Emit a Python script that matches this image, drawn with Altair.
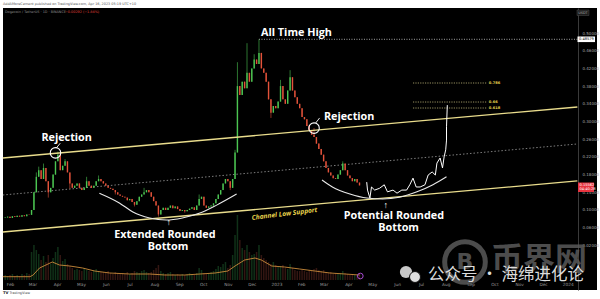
import altair as alt
import numpy as np
import pandas as pd

# ---------------- values ----------------
candle_start = "2022-01-26"          # first 3-day candle
candle_days = 3
first_open = 0.082
closes = [
    0.083, 0.085, 0.082, 0.086, 0.084, 0.087, 0.085, 0.088, 0.086, 0.090, 0.089,
    0.100, 0.140, 0.175, 0.190, 0.170, 0.195, 0.165, 0.140, 0.150, 0.180,
    0.210, 0.225, 0.190, 0.200, 0.210, 0.185, 0.160, 0.150, 0.155, 0.160,
    0.150, 0.145, 0.150, 0.165, 0.155, 0.150, 0.155, 0.165, 0.170, 0.165,
    0.160, 0.155, 0.150, 0.148, 0.145, 0.140, 0.135, 0.132, 0.130, 0.128,
    0.122, 0.125, 0.118, 0.112, 0.120, 0.130, 0.135, 0.140, 0.145, 0.140,
    0.130, 0.120, 0.110, 0.090, 0.100, 0.105, 0.100, 0.105, 0.110, 0.104,
    0.108, 0.102, 0.098, 0.100, 0.097, 0.100, 0.103, 0.106, 0.100, 0.110,
    0.125, 0.130, 0.110, 0.105, 0.108, 0.110, 0.115, 0.125, 0.135, 0.145,
    0.160, 0.170, 0.165, 0.150, 0.170, 0.230, 0.380, 0.360, 0.390, 0.375,
    0.410, 0.390, 0.420, 0.440, 0.430, 0.455, 0.420, 0.410, 0.390, 0.350,
    0.320, 0.335, 0.330, 0.345, 0.380, 0.350, 0.340, 0.370, 0.400, 0.370,
    0.355, 0.340, 0.330, 0.310, 0.305, 0.290, 0.280, 0.270, 0.265, 0.250,
    0.238, 0.225, 0.210, 0.195, 0.185, 0.178, 0.172, 0.170, 0.180, 0.190,
    0.205, 0.190, 0.178, 0.172, 0.165, 0.170, 0.162, 0.1556,
]
high_wicks = {13: 0.185, 14: 0.198, 16: 0.205, 22: 0.232, 25: 0.215, 34: 0.175,
              39: 0.178, 58: 0.150, 81: 0.135, 96: 0.236, 97: 0.434, 101: 0.477,
              104: 0.452, 106: 0.4858, 115: 0.394, 119: 0.416, 129: 0.285, 141: 0.210}
low_wicks = {18: 0.128, 27: 0.148, 46: 0.135, 54: 0.108, 64: 0.085, 75: 0.094,
             94: 0.145, 111: 0.308}
volumes = [  # billions
    0.5, 0.4, 0.5, 0.6, 0.4, 0.5, 0.4, 0.6, 0.5, 0.7, 0.6,
    2.8, 3.5, 3.0, 2.6, 2.0, 2.4, 1.8, 2.5, 1.6, 2.2,
    2.8, 3.3, 2.5, 1.9, 2.1, 1.6, 1.4, 1.2, 1.0, 1.1,
    1.0, 0.9, 1.2, 1.0, 0.9, 0.8, 1.0, 1.1, 0.9, 0.8,
    0.8, 0.7, 0.9, 0.7, 0.6, 0.8, 0.7, 0.6, 0.7, 0.6,
    0.8, 0.6, 0.7, 0.9, 0.8, 0.7, 0.9, 1.0, 0.8, 0.7,
    0.8, 1.0, 1.2, 1.5, 0.9, 0.7, 0.6, 0.7, 0.8, 0.6,
    0.5, 0.6, 0.5, 0.6, 0.5, 0.6, 0.7, 0.6, 0.5, 0.7,
    1.2, 1.0, 0.7, 0.6, 0.7, 0.8, 0.9, 1.1, 1.4, 1.3,
    1.6, 1.8, 1.2, 1.5, 2.5, 4.5, 6.5, 4.0, 3.2, 3.0,
    3.5, 2.8, 2.5, 2.6, 2.8, 3.5, 2.5, 2.2, 2.0, 1.8,
    1.6, 1.8, 1.5, 1.3, 1.4, 1.5, 1.2, 1.1, 1.6, 1.2,
    1.0, 0.9, 0.9, 1.0, 0.9, 0.8, 1.0, 0.9, 1.1, 1.2,
    1.0, 0.9, 1.0, 0.8, 0.7, 0.8, 0.6, 0.7, 0.6, 0.7,
    0.9, 0.7, 0.6, 0.5, 0.6, 0.5, 0.5, 0.6,
]
ma_dates = ["2022-01-23", "2022-02-26", "2022-03-02", "2022-03-10", "2022-03-26", "2022-04-04",
            "2022-04-17", "2022-05-03", "2022-05-18", "2022-06-06", "2022-07-01", "2022-07-26",
            "2022-08-14", "2022-09-08", "2022-09-27", "2022-10-16", "2022-11-01", "2022-11-10",
            "2022-11-22", "2022-12-05", "2022-12-13", "2022-12-26", "2023-01-11", "2023-01-30",
            "2023-02-18", "2023-03-09", "2023-03-28", "2023-04-15"]
ma_values = [0.33, 0.33, 0.5, 1.2, 1.8, 1.5, 1.4, 1.2, 0.9, 0.7, 0.6, 0.6, 0.5, 0.5,
             0.6, 0.7, 0.9, 1.4, 2.0, 2.2, 2.0, 1.4, 1.3, 1.1, 0.9, 0.7, 0.6, 0.5]
event_date, event_vol = "2023-04-16", 0.4

ath_price = 0.48579
last_price = 0.15562
countdown = "04:40:28"
price_ticks = [0.50, 0.46, 0.42, 0.38, 0.34, 0.30, 0.26, 0.22, 0.18, 0.14, 0.10, 0.06, 0.02]

channel_dates = ["2022-01-23", "2024-01-13"]
channel_upper = [0.2175, 0.3328]
channel_mid = [0.1339, 0.2492]
channel_lower = [0.0503, 0.1656]
ath_dates = ["2022-12-10", "2024-01-13"]

fib_dates = ["2023-06-21", "2023-09-21"]
fib_label_date = "2023-09-24"
fib_names = ["0.786", "0.66", "0.618"]
fib_levels = [0.387, 0.344, 0.3305]

proj_dates = ["2023-04-24", "2023-04-25", "2023-04-28", "2023-04-30", "2023-05-04", "2023-05-10",
              "2023-05-16", "2023-05-20", "2023-05-27", "2023-06-01", "2023-06-07", "2023-06-13",
              "2023-06-17", "2023-06-21", "2023-06-25", "2023-06-30", "2023-07-06", "2023-07-10",
              "2023-07-15", "2023-07-19", "2023-07-21", "2023-07-25", "2023-07-28", "2023-07-30",
              "2023-08-01", "2023-08-02", "2023-08-02", "2023-08-03"]
proj_prices = [0.163, 0.145, 0.127, 0.152, 0.145, 0.149, 0.157, 0.141, 0.145, 0.138, 0.145, 0.145,
               0.157, 0.172, 0.152, 0.152, 0.157, 0.179, 0.186, 0.179, 0.206, 0.2175, 0.195, 0.220,
               0.236, 0.258, 0.288, 0.337]

ext_dates = ["2022-05-24", "2022-06-18", "2022-07-05", "2022-07-26", "2022-08-16", "2022-09-05",
             "2022-09-27", "2022-10-18", "2022-11-12"]
ext_prices = [0.138, 0.116, 0.0955, 0.082, 0.0774, 0.082, 0.093, 0.111, 0.136]
pot_dates = ["2023-02-27", "2023-03-12", "2023-04-03", "2023-04-24", "2023-05-14", "2023-06-04",
             "2023-06-26", "2023-07-16", "2023-08-02"]
pot_prices = [0.1678, 0.152, 0.136, 0.127, 0.125, 0.129, 0.141, 0.157, 0.175]

circle_dates = ["2022-03-30", "2023-02-17"]
circle_prices = [0.229, 0.285]
pointer_dates = ["2022-03-31", "2022-04-05", "2023-02-19", "2023-02-24"]
pointer_prices = [0.240, 0.251, 0.2966, 0.308]

label_texts = ["All Time High", "Rejection", "Rejection", "Extended Rounded", "Bottom",
               "Potential Rounded", "Bottom"]
label_dates = ["2023-01-26", "2022-04-13", "2023-04-02", "2022-08-14", "2022-08-18",
               "2023-05-28", "2023-06-03"]
label_prices = [0.500, 0.263, 0.310, 0.0435, 0.0164, 0.0865, 0.0593]
support_text, support_date, support_price = "Channel Low Support", "2023-01-11", 0.091
arrow_dates = ["2022-08-19", "2023-05-18"]
arrow_prices = [0.073, 0.111]

assert len(closes) == len(volumes)

# ---------------- tables ----------------
dates = pd.date_range(candle_start, periods=len(closes), freq=f"{candle_days}D").strftime("%Y-%m-%d")
opens = [first_open] + closes[:-1]
highs = [max(o, c, high_wicks.get(i, 0)) for i, (o, c) in enumerate(zip(opens, closes))]
lows = [min(o, c, low_wicks.get(i, 1)) for i, (o, c) in enumerate(zip(opens, closes))]
candles = pd.DataFrame({"date": dates, "open": opens, "close": closes, "high": highs,
                        "low": lows, "vol": volumes, "base": 0.0})

GREEN, RED = "#4cc552", "#e2523a"
up = alt.condition("datum.close >= datum.open", alt.value(GREEN), alt.value(RED))
vol_color = alt.condition("datum.close >= datum.open", alt.value("#12361b"), alt.value("#381814"))

# ---------------- scales / axes ----------------
price_scale = alt.Scale(domain=[-0.0808, 0.5565], nice=False, zero=False)
vol_scale = alt.Scale(domain=[-1.0, 27.2], nice=False, zero=False)
t0 = pd.Timestamp("2022-01-23 05:30", tz="UTC")
t1 = pd.Timestamp("2024-02-06 14:10", tz="UTC")
x_scale = alt.Scale(type="utc", domain=[int(t0.timestamp() * 1000), int(t1.timestamp() * 1000)], nice=False)
month_ticks = [alt.DateTime(year=d.year, month=d.month, date=1, utc=True)
               for d in pd.date_range("2022-02-01", "2024-01-01", freq="MS")]
x_axis = alt.Axis(values=month_ticks, orient="bottom", offset=-10, title=None, grid=False,
                  domain=False, ticks=False, tickSize=0, labelPadding=2, labelFontSize=4.3,
                  labelColor="#9a9a9a", labelFont="DejaVu Sans", labelOverlap=False, labelFlush=False,
                  labelExpr="utcmonth(datum.value) == 0 ? utcFormat(datum.value, '%Y') : utcFormat(datum.value, '%b')")
y_axis = alt.Axis(orient="right", offset=-19, values=price_ticks, format=".5f", title=None, grid=False,
                  ticks=False, tickSize=0, labelPadding=4, labelFontSize=4.0, labelColor="#a8a8a8",
                  labelFont="DejaVu Sans", domainColor="#3a3a3a", domainWidth=1, labelOverlap=False)


def X(field="date"):
    return alt.X(f"{field}:T", scale=x_scale, axis=x_axis)


def YP(field, axis=None):
    return alt.Y(f"{field}:Q", scale=price_scale, axis=axis)


def YV(field):
    return alt.Y(f"{field}:Q", scale=vol_scale, axis=None)


# ---------------- layers ----------------
vol = alt.Chart(candles).mark_rule(strokeWidth=1.5, opacity=0.9).encode(
    x=X(), y=YV("base"), y2="vol:Q", color=vol_color)
ma = alt.Chart(pd.DataFrame({"date": ma_dates, "ma": ma_values})).mark_line(
    color="#c98a3a", strokeWidth=0.9).encode(x=X(), y=YV("ma"))
event = alt.Chart(pd.DataFrame({"date": [event_date], "v": [event_vol]})).mark_point(
    shape="circle", filled=False, size=32, color="#a64bd0", strokeWidth=1, opacity=1).encode(x=X(), y=YV("v"))

chan_df = pd.DataFrame({"date": channel_dates * 2, "price": channel_upper + channel_lower,
                        "line": ["upper"] * 2 + ["lower"] * 2})
channel = alt.Chart(chan_df).mark_line(color="#e9dc8c", strokeWidth=1.3).encode(
    x=X(), y=YP("price"), detail="line:N")
mid = alt.Chart(pd.DataFrame({"date": channel_dates, "price": channel_mid})).mark_line(
    color="#b5b5b5", strokeWidth=0.7, strokeDash=[1.5, 2]).encode(x=X(), y=YP("price"))
ath_line = alt.Chart(pd.DataFrame({"date": ath_dates, "price": [ath_price] * 2})).mark_line(
    color="#cfcfcf", strokeWidth=0.8, strokeDash=[1, 1.5]).encode(x=X(), y=YP("price"))

fib_df = pd.DataFrame({"date": fib_dates * 3, "price": [p for p in fib_levels for _ in range(2)],
                       "name": [n for n in fib_names for _ in range(2)]})
fib = alt.Chart(fib_df).mark_line(color="#d8cf8a", strokeWidth=0.7, strokeDash=[1.2, 1.2]).encode(
    x=X(), y=YP("price"), detail="name:N")
fib_lab = alt.Chart(pd.DataFrame({"date": [fib_label_date] * 3, "price": fib_levels, "t": fib_names})).mark_text(
    align="left", baseline="middle", fontSize=3.6, fontWeight="bold", color="#e8d44d", font="DejaVu Sans").encode(
    x=X(), y=YP("price"), text="t:N")

wicks = alt.Chart(candles).mark_rule(strokeWidth=0.6).encode(
    x=X(), y=YP("low", y_axis), y2="high:Q", color=up)
bodies = alt.Chart(candles).mark_rule(strokeWidth=1.4).encode(
    x=X(), y=YP("open"), y2="close:Q", color=up)

proj = alt.Chart(pd.DataFrame({"date": proj_dates, "price": proj_prices, "ord": range(len(proj_dates))})).mark_line(
    color="white", strokeWidth=1).encode(x=X(), y=YP("price"), order="ord:Q")
arcs_df = pd.DataFrame({"date": ext_dates + pot_dates, "price": ext_prices + pot_prices,
                        "arc": ["ext"] * len(ext_dates) + ["pot"] * len(pot_dates)})
arcs = alt.Chart(arcs_df).mark_line(color="#e8e8e8", strokeWidth=1.1, interpolate="monotone").encode(
    x=X(), y=YP("price"), detail="arc:N")
circles = alt.Chart(pd.DataFrame({"date": circle_dates, "price": circle_prices})).mark_point(
    shape="circle", filled=False, size=110, color="white", strokeWidth=1.1, opacity=1).encode(x=X(), y=YP("price"))
pointers = alt.Chart(pd.DataFrame({"date": pointer_dates, "price": pointer_prices, "seg": [0, 0, 1, 1]})).mark_line(
    color="white", strokeWidth=0.9).encode(x=X(), y=YP("price"), detail="seg:N")
arrows = alt.Chart(pd.DataFrame({"date": arrow_dates, "price": arrow_prices, "t": ["↑", "↑"]})).mark_text(
    fontSize=9, color="white", baseline="middle").encode(x=X(), y=YP("price"), text="t:N")
labels = alt.Chart(pd.DataFrame({"date": label_dates, "price": label_prices, "t": label_texts})).mark_text(
    font="Open Sans", fontWeight="bold", fontSize=10.8, color="white", align="center", baseline="middle").encode(
    x=X(), y=YP("price"), text="t:N")
support = alt.Chart(pd.DataFrame({"date": [support_date], "price": [support_price], "t": [support_text]})).mark_text(
    font="Open Sans", fontWeight="bold", fontStyle="italic", fontSize=6.6, color="#e8d44d", angle=353,
    align="center", baseline="middle").encode(x=X(), y=YP("price"), text="t:N")

# price tags on the axis
ath_box = alt.Chart(pd.DataFrame({"top": [ath_price + 0.0063], "bot": [ath_price - 0.0063]})).mark_rect(
    color="white").encode(x=alt.value(574.5), x2=alt.value(592), y=YP("top"), y2="bot:Q")
ath_txt = alt.Chart(pd.DataFrame({"p": [ath_price], "t": [f"{ath_price:.5f}"]})).mark_text(
    align="left", baseline="middle", fontSize=3.6, color="black", font="DejaVu Sans").encode(
    x=alt.value(576), y=YP("p"), text="t:N")
last_box = alt.Chart(pd.DataFrame({"top": [last_price + 0.0065], "bot": [last_price - 0.0150]})).mark_rect(
    color="#e8343f").encode(x=alt.value(575), x2=alt.value(591), y=YP("top"), y2="bot:Q")
last_txt = alt.Chart(pd.DataFrame({"p": [last_price, last_price - 0.0092],
                                   "t": [f"{last_price:.5f}", countdown]})).mark_text(
    align="left", baseline="middle", fontSize=3.6, color="white", font="DejaVu Sans").encode(
    x=alt.value(576.5), y=YP("p"), text="t:N")

one = pd.DataFrame({"k": [0]})
usdt_box = alt.Chart(one).mark_rect(fill="#1c1c1c", stroke="#4a4a4a", strokeWidth=0.5).encode(
    x=alt.value(574), x2=alt.value(586), y=alt.value(2), y2=alt.value(7.5))


def ui_text(text, x, y, size, color, weight="normal", align="left", font="DejaVu Sans", opacity=1.0):
    return alt.Chart(pd.DataFrame({"t": [text]})).mark_text(
        align=align, baseline="middle", fontSize=size, color=color, fontWeight=weight,
        font=font, opacity=opacity).encode(x=alt.value(x), y=alt.value(y), text="t:N")


usdt_txt = ui_text("USDT", 580, 4.8, 3.4, "#b0b0b0", align="center")
publish = ui_text("AddAMoreCement published on TradingView.com, Apr 16, 2023 05:19 UTC+10", 0, -4, 3.4, "#555555")
legend1 = ui_text("Dogecoin / TetherUS · 1D · BINANCE", 2, 4, 3.4, "#8c8c8c")
legend2 = ui_text("−0.00292 (−1.84%)", 62, 4, 3.4, "#e0403a")
tv_logo = ui_text("TV", 0, 285, 3.8, "#222222", weight="bold")
tv_name = ui_text("TradingView", 6.5, 285, 3.4, "#444444")

# watermark
ring = alt.Chart(one).mark_point(shape="circle", filled=False, size=1650, color="#5a5a5a",
                                 strokeWidth=5, opacity=0.85).encode(x=alt.value(462), y=alt.value(254))
ring_b = ui_text("B", 462, 254, 22, "#5a5a5a", weight="bold", align="center", opacity=0.85)
bjw = ui_text("币界网", 536, 252, 32, "#5a5a5a", weight="bold", align="center",
              font="Noto Sans CJK SC", opacity=0.85)
bub = alt.Chart(pd.DataFrame({"x": [0]})).mark_point(shape="circle", filled=True, size=150, color="#c9c9c9",
                                                      opacity=1).encode(x=alt.value(403), y=alt.value(264))
bub2 = alt.Chart(pd.DataFrame({"x": [0]})).mark_point(shape="circle", filled=True, size=120, fill="#dedede",
                                                       stroke="#111111", strokeWidth=1, opacity=1).encode(
    x=alt.value(412), y=alt.value(269))
gzh = ui_text("公众号 · 海绵进化论", 503, 267, 16.5, "#dcdcdc", align="center", font="Noto Sans CJK SC")

chart = alt.layer(
    vol, ma, event, mid, ath_line, fib, fib_lab, wicks, bodies, channel, proj, arcs, circles, pointers,
    arrows, labels, support, ath_box, ath_txt, last_box, last_txt, usdt_box, usdt_txt, publish, legend1,
    legend2, tv_logo, tv_name, ring, ring_b, bjw, bub, bub2, gzh,
).resolve_scale(y="independent").properties(
    width=594, height=282, autosize="none", background="white",
    padding={"left": 3, "top": 8, "right": 3, "bottom": 9},
).configure_view(fill="#000000", strokeWidth=0)

chart.save("out.html", embed_options={"renderer": "svg", "actions": False})
